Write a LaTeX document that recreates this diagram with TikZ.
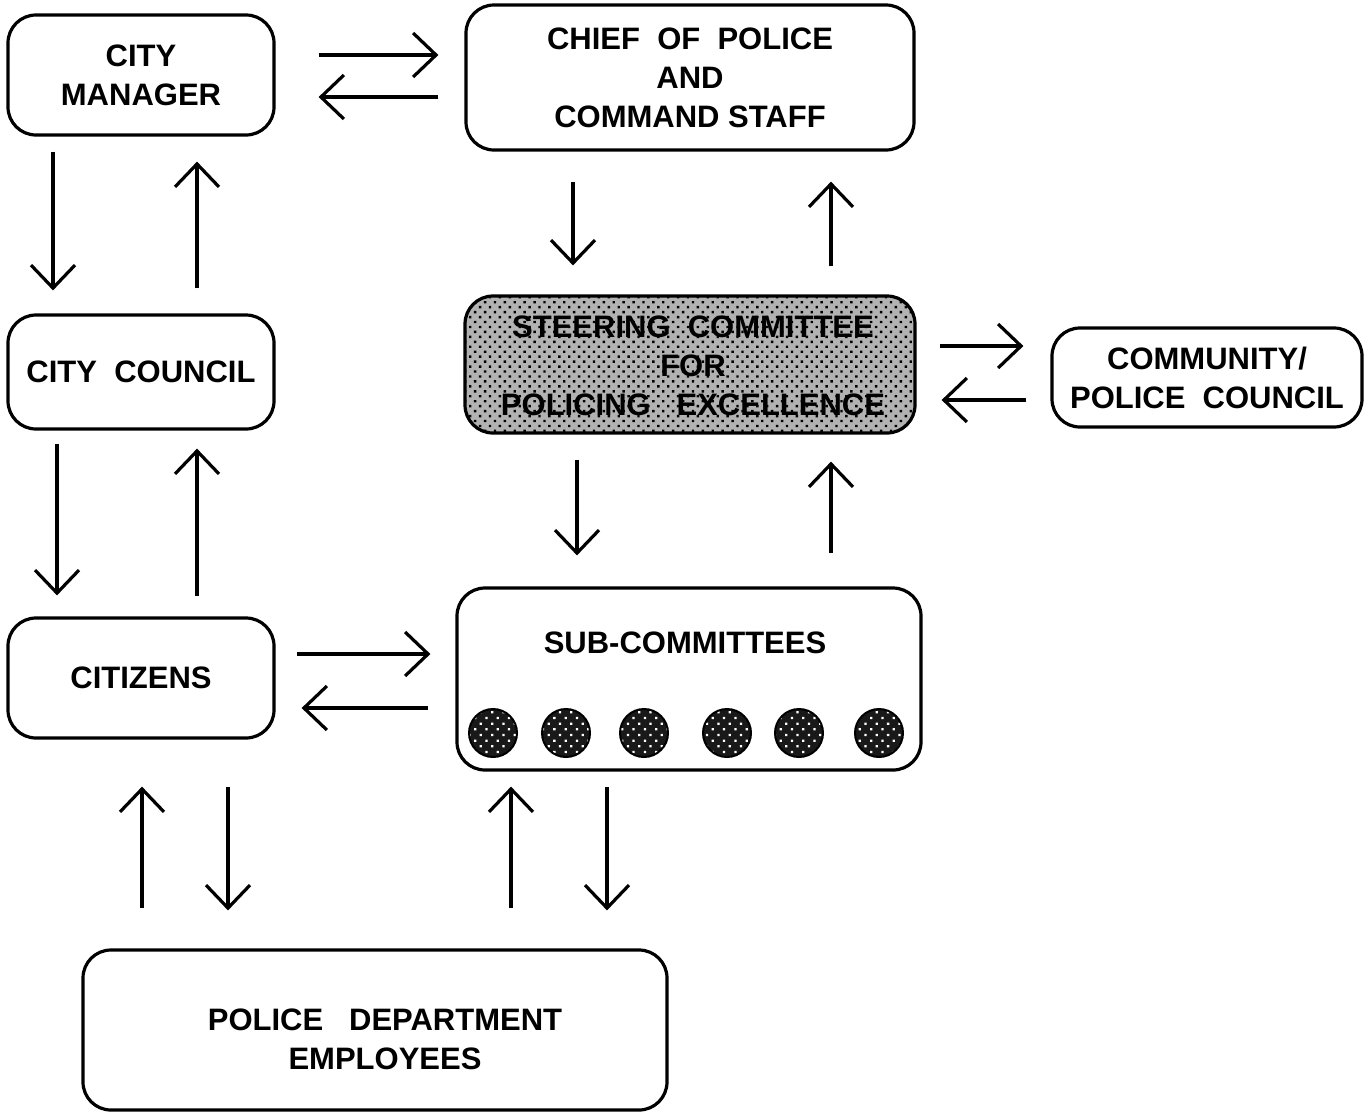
\documentclass[tikz,border=0pt]{standalone}
\usepackage{fontspec}
\setmainfont{Liberation Sans}
\usetikzlibrary{arrows.meta,patterns.meta}
\begin{document}
\begin{tikzpicture}[x=1pt,y=-1pt,
  box/.style={draw=black,line width=3.2pt,rounded corners=28pt,inner sep=0pt,align=center,
    font=\fontsize{31}{39}\selectfont\bfseries},
  lbl/.style={inner sep=0pt,align=center,font=\fontsize{31}{39}\selectfont\bfseries},
  arr/.style={line width=3.2pt,-{Straight Barb[length=23pt,width=44pt,line width=3.2pt]}},
  dot/.style={circle,draw=black,line width=2pt,minimum size=48pt,inner sep=0pt,
    preaction={fill=black!90},pattern={Dots[distance=8pt,radius=1.6pt,angle=45]},pattern color=white}
]
\useasboundingbox[fill=white] (0,0) rectangle (1368,1114);
% boxes
\node[box,minimum width=266pt,minimum height=120pt] (cm) at (141,75) {CITY\\MANAGER};
\node[box,minimum width=448pt,minimum height=145pt] (chief) at (690,77.5) {CHIEF\ \ OF\ \ POLICE\\AND\\COMMAND STAFF};
\node[box,minimum width=266pt,minimum height=114pt] (cc) at (141,372) {CITY\ \ COUNCIL};
\node[box,minimum width=450pt,minimum height=137pt,
  preaction={fill=black!30},pattern={Dots[distance=7pt,radius=1.7pt,angle=45]},pattern color=black] (steer) at (690,364.5) {};
\node[lbl] (steertxt) at (693,366) {STEERING\ \ COMMITTEE\\FOR\\POLICING\ \ \ EXCELLENCE};
\node[box,minimum width=310pt,minimum height=99pt] (comm) at (1207,377.5) {COMMUNITY/\\POLICE\ \ COUNCIL};
\node[box,minimum width=266pt,minimum height=120pt] (cit) at (141,678) {CITIZENS};
\node[box,minimum width=464pt,minimum height=182pt] (sub) at (689,679) {};
\node[lbl] (subtxt) at (685,643) {SUB-COMMITTEES};
\node[box,minimum width=584pt,minimum height=160pt] (pde) at (375,1030) {};
\node[lbl] (pdetxt) at (385,1039) {POLICE\ \ \ DEPARTMENT\\EMPLOYEES};
% circles
\foreach \i/\x in {1/493,2/566,3/644,4/727,5/799,6/879}
  \node[dot] (c\i) at (\x,733) {};
% arrows
\draw[arr,shorten <=43pt,shorten >=26pt] ([yshift=20pt]cm.east) -- ([yshift=22.5pt]chief.west);
\draw[arr,shorten <=26pt,shorten >=43pt] ([yshift=-19.5pt]chief.west) -- ([yshift=-22pt]cm.east);
\draw[arr,shorten <=15pt,shorten >=23pt] ([xshift=-88pt]cm.south) -- ([xshift=-88pt]cc.north);
\draw[arr,shorten <=25pt,shorten >=25pt] ([xshift=56pt]cc.north) -- ([xshift=56pt]cm.south);
\draw[arr,shorten <=30pt,shorten >=29pt] ([xshift=-117pt]chief.south) -- ([xshift=-117pt]steer.north);
\draw[arr,shorten <=28pt,shorten >=30pt] ([xshift=141pt]steer.north) -- ([xshift=141pt]chief.south);
\draw[arr,shorten <=23pt,shorten >=27pt] ([yshift=18.5pt]steer.east) -- ([yshift=31.5pt]comm.west);
\draw[arr,shorten <=24pt,shorten >=25pt] ([yshift=-22.5pt]comm.west) -- ([yshift=-35.5pt]steer.east);
\draw[arr,shorten <=13pt,shorten >=21pt] ([xshift=-84pt]cc.south) -- ([xshift=-84pt]cit.north);
\draw[arr,shorten <=20pt,shorten >=18pt] ([xshift=56pt]cit.north) -- ([xshift=56pt]cc.south);
\draw[arr,shorten <=25pt,shorten >=31pt] ([xshift=-113pt]steer.south) -- ([xshift=-112pt]sub.north);
\draw[arr,shorten <=33pt,shorten >=27pt] ([xshift=142pt]sub.north) -- ([xshift=141pt]steer.south);
\draw[arr,shorten <=21pt,shorten >=25pt] ([yshift=24pt]cit.east) -- ([yshift=25pt]sub.west);
\draw[arr,shorten <=27pt,shorten >=26pt] ([yshift=-29pt]sub.west) -- ([yshift=-30pt]cit.east);
\draw[arr,shorten <=40pt,shorten >=47pt] ([xshift=-233pt]pde.north) -- ([xshift=1pt]cit.south);
\draw[arr,shorten <=47pt,shorten >=38pt] ([xshift=87pt]cit.south) -- ([xshift=-147pt]pde.north);
\draw[arr,shorten <=40pt,shorten >=15pt] ([xshift=136pt]pde.north) -- ([xshift=-178pt]sub.south);
\draw[arr,shorten <=15pt,shorten >=38pt] ([xshift=-82pt]sub.south) -- ([xshift=232pt]pde.north);
\end{tikzpicture}
\end{document}
